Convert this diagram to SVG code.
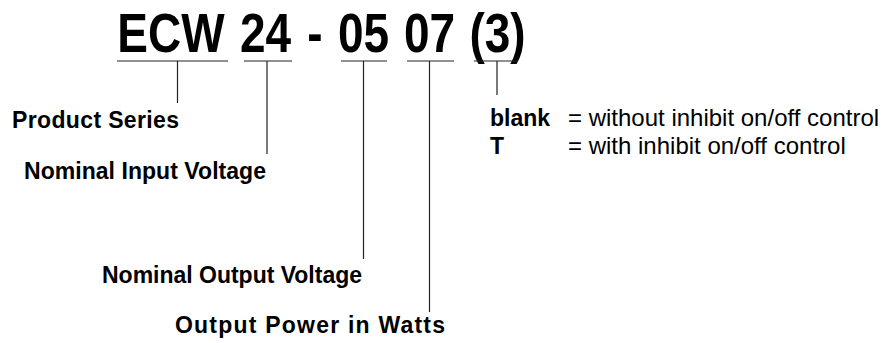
<svg xmlns="http://www.w3.org/2000/svg" width="884" height="343" viewBox="0 0 884 343">
<style>
.t{font-family:"Liberation Sans",Arial,sans-serif;font-weight:bold;font-size:46px;fill:#000;text-anchor:middle}
.l{font-family:"Liberation Sans",Arial,sans-serif;font-weight:bold;font-size:23px;fill:#000}
.r{font-family:"Liberation Sans",Arial,sans-serif;font-size:24px;fill:#000}
.c{stroke:#222;stroke-width:1.2;fill:none}
</style>
<rect width="884" height="343" fill="#fff"/>
<g id="title" transform="translate(0,52) scale(1,1.2)">
<text class="t" x="171" y="0">ECW</text>
<text class="t" x="265.5" y="0">24</text>
<text class="t" x="315" y="0">-</text>
<text class="t" x="363.5" y="0">05</text>
<text class="t" x="429.5" y="0">07</text>
<text class="t" x="497.5" y="0">(3)</text>
</g>
<g id="connectors">
<path class="c" d="M117 61H228M177.5 61V103"/>
<path class="c" d="M244 61H292M267 61V154"/>
<path class="c" d="M341 61H387M363.5 61V259"/>
<path class="c" d="M407 61H454M429.5 61V312"/>
<path class="c" d="M474 61H518M497 61V95"/>
</g>
<g id="product-series"><text class="l" x="12" y="128" textLength="167">Product Series</text></g>
<g id="input-voltage"><text class="l" x="24" y="179" textLength="242">Nominal Input Voltage</text></g>
<g id="output-voltage"><text class="l" x="102" y="283" textLength="260">Nominal Output Voltage</text></g>
<g id="output-power"><text class="l" x="175" y="333" textLength="270">Output Power in Watts</text></g>
<g id="options">
<text class="l" x="490" y="126">blank</text>
<text class="r" x="568" y="126">= without inhibit on/off control</text>
<text class="l" x="490" y="154">T</text>
<text class="r" x="568" y="154">= with inhibit on/off control</text>
</g>
</svg>
